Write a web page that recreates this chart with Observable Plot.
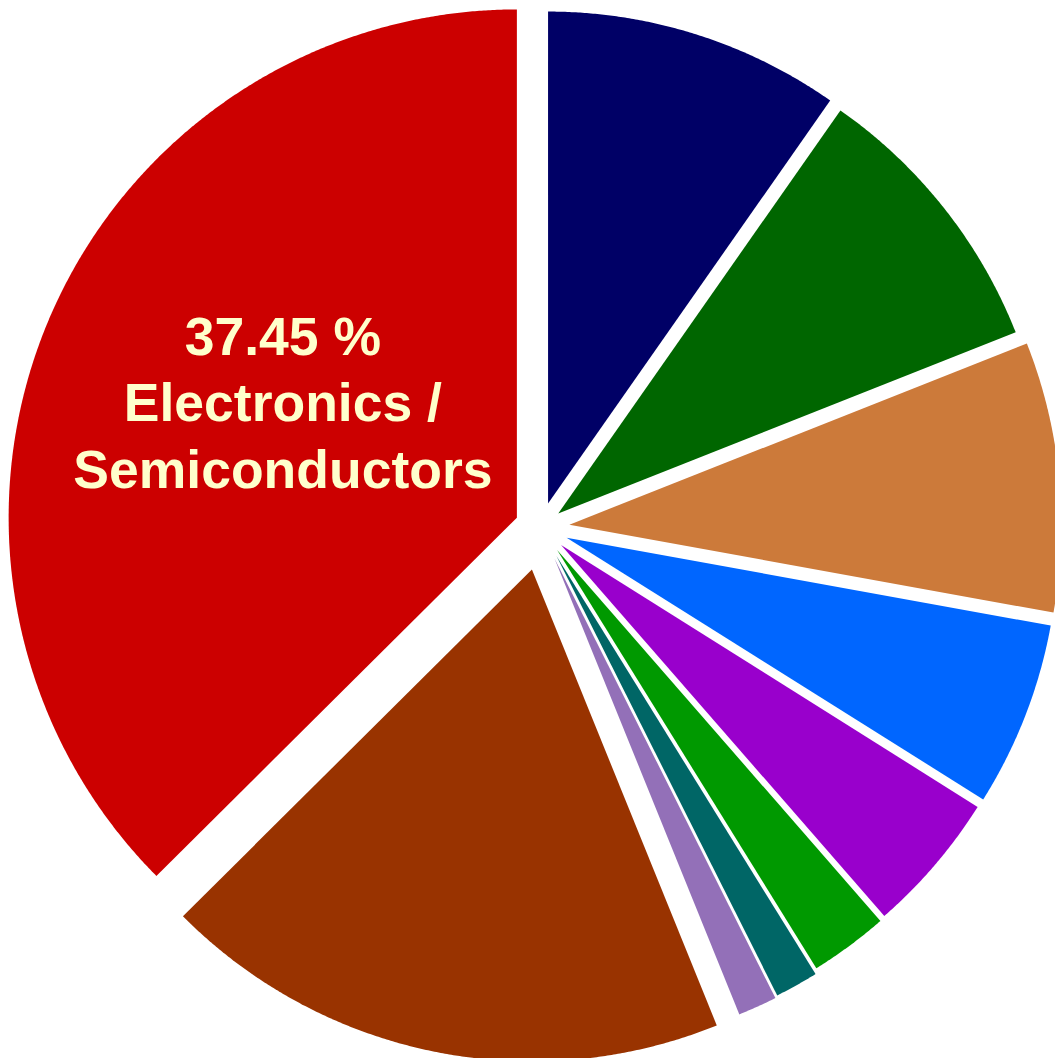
<!DOCTYPE html>
<html>
<head>
<meta charset="utf-8">
<script src="https://cdn.jsdelivr.net/npm/d3@7"></script>
<script src="https://cdn.jsdelivr.net/npm/@observablehq/plot@0.6"></script>
<style>
  html, body { margin: 0; padding: 0; background: #ffffff; }
  #chart svg { display: block; }
</style>
</head>
<body>
<div id="chart"></div>
<script>
// ---- data (clockwise from 12 o'clock) ----
const categories = ["Segment 1", "Segment 2", "Segment 3", "Segment 4", "Segment 5",
                    "Segment 6", "Segment 7", "Segment 8", "Segment 9", "Electronics / Semiconductors"];
const shares = [9.72, 9.28, 8.86, 6.07, 4.66, 2.58, 1.42, 1.28, 18.68, 37.45];
const sliceLabels = ["", "", "", "", "", "", "", "", "", "37.45 %\nElectronics /\nSemiconductors"];

// ---- styles ----
const colors = ["#000066", "#006600", "#CC7A3A", "#0066FF", "#9900CC",
                "#009900", "#006666", "#9370B8", "#993300", "#CC0000"];
const explode = [0.051, 0.046, 0.059, 0.057, 0.055, 0.057, 0.066, 0.069, 0.087, 0.052];
const radiusScale = [1, 1, 1, 1, 1, 1, 1, 1, 1, 1.033];

const W = 1055, H = 1058;
const CX = 540, CY = 527, R = 492; // pixel centre and radius (layout)

const rows = categories.map((c, i) => ({cat: c, share: shares[i], label: sliceLabels[i], i}));
const arcs = d3.pie().sort(null).value(d => d.share)(rows);

const polys = [];
const labelRows = [];
for (const a of arcs) {
  const i = a.data.i;
  const mid = (a.startAngle + a.endAngle) / 2;
  const ox = explode[i] * Math.sin(mid);
  const oy = explode[i] * Math.cos(mid);
  const rs = radiusScale[i];
  polys.push({cat: a.data.cat, x: ox, y: oy});
  const n = Math.max(2, Math.ceil((a.endAngle - a.startAngle) / (Math.PI / 720)));
  for (let k = 0; k <= n; k++) {
    const t = a.startAngle + (a.endAngle - a.startAngle) * k / n;
    polys.push({cat: a.data.cat, x: ox + rs * Math.sin(t), y: oy + rs * Math.cos(t)});
  }
  if (a.data.label) {
    labelRows.push({text: a.data.label, x: ox + 0.52 * rs * Math.sin(mid), y: oy + 0.52 * rs * Math.cos(mid)});
  }
}

const chart = Plot.plot({
  width: W,
  height: H,
  margin: 0,
  x: {domain: [-CX / R, (W - CX) / R], axis: null},
  y: {domain: [-(H - CY) / R, CY / R], axis: null},
  color: {domain: categories, range: colors},
  marks: [
    Plot.line(polys, {x: "x", y: "y", z: "cat", fill: "cat", stroke: "none", curve: "linear-closed"}),
    Plot.text(labelRows, {
      x: "x", y: "y", text: "text",
      fill: "#FFFFCC", fontSize: 53.5, fontWeight: "bold",
      fontFamily: "Liberation Sans, Arial, Helvetica, sans-serif",
      lineHeight: 1.24, lineAnchor: "middle", textAnchor: "middle",
      dx: 10, dy: -16
    })
  ]
});
document.getElementById("chart").appendChild(chart);
</script>
</body>
</html>
